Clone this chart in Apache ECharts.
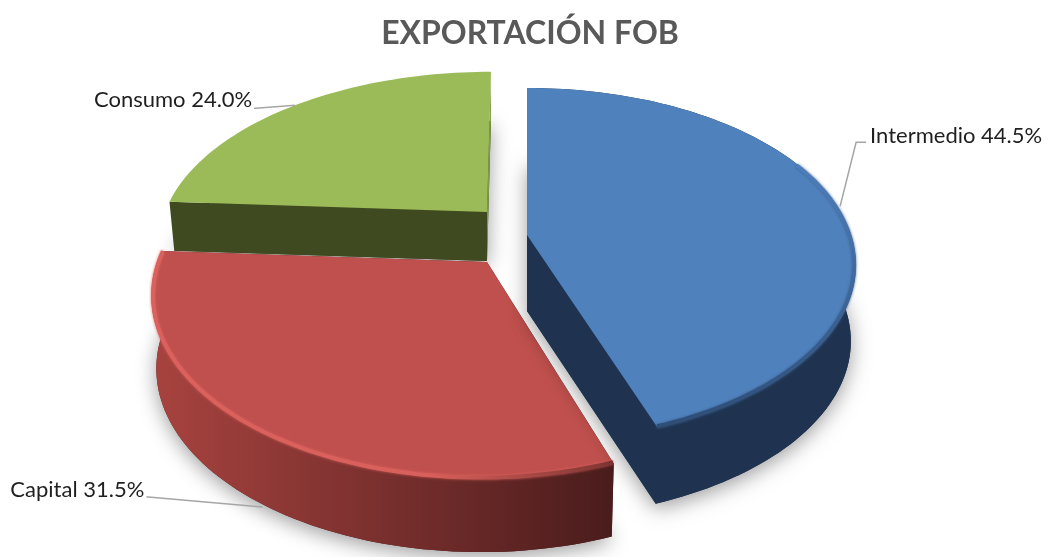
<!DOCTYPE html>
<html>
<head>
<meta charset="utf-8">
<script src="https://cdn.jsdelivr.net/npm/echarts@6/dist/echarts.min.js"></script>
<style>
html,body{margin:0;padding:0;background:#fff;}
#main{width:1049px;height:557px;}
</style>
</head>
<body>
<div id="main"></div>
<script>
var titleText = 'EXPORTACIÓN FOB';
var categories = ['Intermedio', 'Capital', 'Consumo'];
var values = [44.5, 31.5, 24.0];

// look of the flattened disc, the library has no 3d pie so it is drawn with a custom series
var RX = 324, RY = 172, SHRINK = 0.985;
var sliceStyle = [
	{cx:527, cy:235, apexX:527, ry:1, persp:0.17, depth:76, skew:0, z:30, top:'#4F81BD', cuts:['#1F3350','#1F3350'],
		wall:['#1F3350','#1F3350'], rim:[0.4,1], rimDir:[0,0,0,1], rimStops:['#4F81BD','#3A6090','#2C4A72'],
		anchorOff:[3,0], leader:[[16,-64],[26,-64]], text:[30,-70], bottomAnchor:false},
	{cx:481, cy:262, apexX:487, ry:1.03, persp:0.184, depth:73, skew:0, z:20, top:'#C0504D', cuts:['#4F1E1E','#4F1E1E'],
		wall:['#A8433F','#4A1C1C'], rim:[0,1], rimDir:[0,0,1,0], rimStops:['#DC625E','#DA605C','#74302D'],
		anchorOff:[6,6], leader:[[-114,-10],[-116,-10]], text:[-252,-17], bottomAnchor:true},
	{cx:489, cy:212, apexX:487, ry:0.965, persp:0.184, depth:49, skew:0.014, z:10, top:'#9BBB59', cuts:['#404A20','#7E9A48'],
		wall:null, rim:null,
		anchorOff:[0,0], leader:[[-39,3],[-41,3]], text:[-201,-5], bottomAnchor:false}
];

var total = values.reduce(function(a,b){return a+b;},0);

var disc = function(s,deg){
	var a = deg*Math.PI/180;
	var u = Math.sin(a), v = Math.cos(a);
	var w = 1+s.persp*v;
	var y = -RY*s.ry*v/w;
	return [s.cx + RX*u/w - s.skew*y, s.cy + y];
};
var under = function(s,p){
	return [s.cx+(p[0]-s.cx)*SHRINK, p[1]+s.depth];
};
var arcPts = function(s,from,to){
	var pts = [], n = Math.ceil(Math.abs(to-from)/1.5);
	for(var i=0;i<=n;i++){
		pts.push(disc(s,from+(to-from)*i/n));
	}
	return pts;
};
var startAngle = function(idx){
	var sum = 0;
	for(var i=0;i<idx;i++){sum+=values[i];}
	return sum/total*360;
};

var renderSlice = function(params,api){
	var idx = api.value(0);
	var s = sliceStyle[idx];
	var from = startAngle(idx);
	var to = from+api.value(1)/total*360;
	var mid = (from+to)/2;
	var apex = [s.apexX,s.cy];
	var arc = arcPts(s,from,to);
	var arcLow = arc.map(function(p){return under(s,p);});
	var apexLow = [s.apexX,s.cy+s.depth];
	var kids = [];
	// soft shadow, cast by the lower outline only
	kids.push({type:'polygon',z2:s.z,shape:{points:[apexLow].concat(arcLow)},
		style:{fill:s.cuts[0],shadowBlur:20,shadowColor:'rgba(0,0,0,0.38)',shadowOffsetX:0,shadowOffsetY:5}});
	// cut faces
	kids.push({type:'polygon',z2:s.z+1,shape:{points:[apex,arc[0],arcLow[0],apexLow]},style:{fill:s.cuts[0]}});
	kids.push({type:'polygon',z2:s.z+1,shape:{points:[apex,arc[arc.length-1],arcLow[arcLow.length-1],apexLow]},style:{fill:s.cuts[1]}});
	// outer wall
	if(s.wall){
		kids.push({type:'polygon',z2:s.z+2,shape:{points:arc.concat(arcLow.slice().reverse())},
			style:{fill:new echarts.graphic.LinearGradient(0,0,1,0,[{offset:0,color:s.wall[0]},{offset:1,color:s.wall[1]}])}});
	}
	// top face
	kids.push({type:'polygon',z2:s.z+3,shape:{points:[apex].concat(arc)},style:{fill:s.top}});
	// bevel along the rim
	if(s.rim){
		var rimFrom = from+(to-from)*s.rim[0];
		var rimPts = arcPts(s,rimFrom,to).map(function(p){
			return [s.cx+(p[0]-s.cx)*0.995,s.cy+(p[1]-s.cy)*0.993];
		});
		kids.push({type:'polyline',z2:s.z+4,shape:{points:rimPts},
			style:{fill:null,lineWidth:4,opacity:0.9,shadowBlur:3,shadowColor:s.rimStops[1],
				stroke:new echarts.graphic.LinearGradient(s.rimDir[0],s.rimDir[1],s.rimDir[2],s.rimDir[3],[
					{offset:0,color:s.rimStops[0]},{offset:0.6,color:s.rimStops[1]},{offset:1,color:s.rimStops[2]}])}});
	}
	// leader line and label
	var anchor = disc(s,mid);
	if(s.bottomAnchor){anchor = under(s,anchor);}
	anchor = [anchor[0]+s.anchorOff[0],anchor[1]+s.anchorOff[1]];
	var leader = [anchor];
	s.leader.forEach(function(o){leader.push([anchor[0]+o[0],anchor[1]+o[1]]);});
	kids.push({type:'polyline',z2:60,shape:{points:leader},style:{fill:null,stroke:'#A6A6A6',lineWidth:1.5}});
	kids.push({type:'text',z2:61,x:anchor[0]+s.text[0],y:anchor[1]+s.text[1],
		style:{text:categories[idx]+' '+api.value(1).toFixed(1)+'%',fill:'#1F1F1F',
			font:'22px Lato',textAlign:'left',textVerticalAlign:'middle'}});
	return {type:'group',children:kids};
};

var seriesData = values.map(function(v,i){return [i,v];});

var myChart = echarts.init(document.getElementById('main'));
var option = {
	animation:false,
	backgroundColor:'#fff',
	title:{
		text:titleText,
		left:525,
		top:13,
		textAlign:'center',
		textStyle:{fontFamily:'Lato',fontSize:32,fontWeight:'bold',color:'#595959'}
	},
	series:[
		{
			type:'custom',
			coordinateSystem:'none',
			silent:true,
			renderItem:renderSlice,
			data:seriesData
		}
	]
};
myChart.setOption(option);
</script>
</body>
</html>
